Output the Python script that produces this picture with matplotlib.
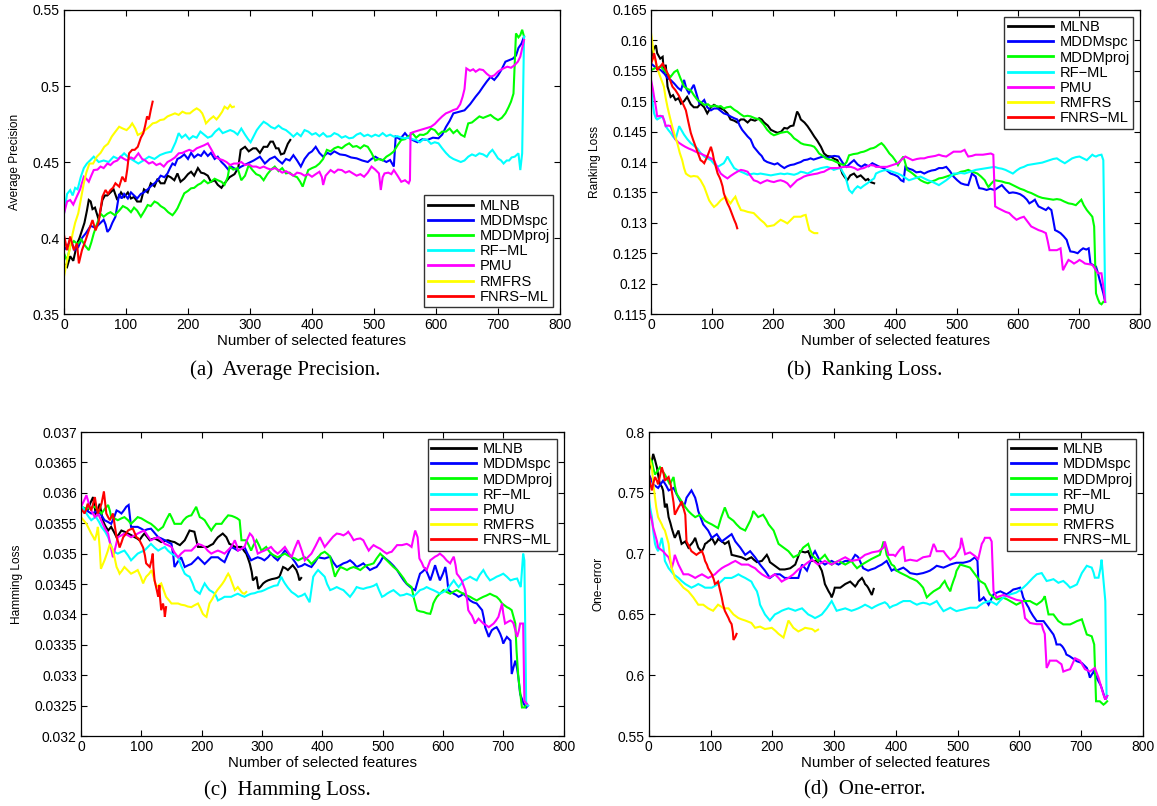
import matplotlib
matplotlib.use("Agg")
import matplotlib.pyplot as plt

methods = ["MLNB", "MDDMspc", "MDDMproj", "RF\u2212ML", "PMU", "RMFRS", "FNRS\u2212ML"]
colors = ["#000000", "#0000ff", "#00ff00", "#00ffff", "#ff00ff", "#ffff00", "#ff0000"]

# ---------------- (a) Average Precision: (features, value) ----------------
ap_mlnb = [(0,.383),(5,.381),(10,.388),(15,.385),(21,.396),(25,.40),(29,.405),(33,.41),(37,.418),(40,.425),(43,.424),(46,.419),(50,.42),(56,.412),(62,.425),(66,.428),(70,.428),(75,.43),(80,.432),(86,.425),(92,.43),(97,.427),(103,.43),(108,.426),(113,.427),(118,.424),(124,.424),(129,.432),(135,.43),(140,.436),(146,.434),(151,.439),(156,.436),(162,.436),(167,.441),(172,.44),(178,.438),(183,.4425),(188,.437),(194,.439),(200,.442),(205,.4436),(210,.441),(216,.446),(221,.443),(226,.4425),(232,.441),(237,.437),(243,.438),(248,.435),(254,.433),(259,.436),(267,.44),(275,.442),(281,.446),(285,.458),(292,.46),(298,.457),(305,.459),(310,.459),(316,.456),(322,.46),(328,.46),(333,.4634),(337,.4634),(342,.459),(346,.459),(350,.455),(355,.4557),(361,.462),(365,.4645)]
ap_spc = [(0,.392),(6,.395),(11,.3987),(17,.392),(23,.394),(29,.40),(35,.403),(43,.408),(49,.407),(54,.408),(59,.41),(64,.412),(67,.409),(70,.404),(74,.406),(78,.41),(83,.414),(89,.429),(93,.426),(97,.429),(103,.426),(108,.43),(113,.428),(118,.426),(124,.429),(129,.43),(135,.432),(140,.434),(146,.436),(151,.438),(156,.441),(162,.44),(167,.4425),(171,.446),(175,.449),(179,.448),(183,.452),(188,.453),(194,.455),(200,.452),(205,.456),(210,.453),(216,.455),(221,.454),(226,.457),(232,.454),(237,.456),(243,.452),(248,.4535),(254,.45),(259,.448),(265,.445),(270,.447),(278,.445),(286,.447),(296,.449),(306,.451),(316,.4535),(324,.449),(332,.452),(340,.4535),(346,.451),(352,.449),(358,.452),(364,.451),(370,.4545),(376,.451),(382,.447),(388,.452),(395,.4557),(400,.457),(406,.46),(412,.456),(418,.4535),(425,.456),(430,.455),(436,.457),(445,.455),(454,.4545),(463,.453),(472,.4524),(481,.451),(490,.45),(496,.452),(502,.4535),(508,.452),(514,.4513),(520,.45),(526,.4513),(532,.447),(535,.4667),(542,.465),(550,.469),(556,.466),(562,.4645),(570,.463),(578,.465),(586,.4645),(595,.466),(604,.4656),(610,.468),(616,.473),(622,.477),(628,.482),(637,.483),(646,.484),(655,.488),(664,.493),(670,.496),(676,.4996),(682,.503),(688,.506),(694,.504),(700,.507),(706,.511),(712,.516),(718,.517),(724,.518),(729,.52),(733,.525),(738,.528),(742,.5325)]
ap_proj = [(0,.39),(5,.385),(10,.395),(16,.398),(22,.396),(28,.399),(34,.395),(40,.392),(44,.397),(48,.403),(53,.409),(59,.416),(64,.414),(70,.416),(75,.417),(82,.415),(89,.418),(95,.421),(102,.4195),(108,.417),(113,.42),(118,.418),(124,.414),(130,.418),(135,.4217),(140,.421),(146,.424),(151,.423),(156,.421),(162,.4195),(168,.417),(175,.415),(179,.417),(183,.4195),(188,.424),(194,.4294),(200,.431),(205,.4327),(210,.433),(216,.435),(221,.436),(226,.438),(232,.436),(237,.437),(243,.439),(248,.438),(254,.437),(259,.435),(264,.44),(267,.447),(273,.445),(280,.446),(286,.438),(292,.441),(298,.448),(304,.4447),(310,.442),(316,.441),(322,.438),(328,.442),(334,.445),(340,.447),(346,.444),(352,.446),(358,.4425),(364,.443),(370,.441),(376,.44),(381,.437),(385,.4338),(390,.44),(394,.4447),(400,.446),(406,.447),(412,.449),(418,.452),(424,.458),(430,.457),(436,.459),(442,.46),(448,.459),(454,.461),(460,.4623),(466,.46),(472,.4605),(478,.459),(484,.461),(490,.46),(496,.456),(502,.451),(508,.452),(514,.451),(520,.4535),(526,.455),(532,.457),(538,.461),(544,.4645),(550,.465),(556,.467),(562,.469),(568,.466),(574,.468),(580,.4678),(586,.469),(592,.472),(598,.471),(604,.468),(610,.47),(616,.47),(622,.472),(628,.469),(634,.471),(640,.468),(646,.4667),(652,.4754),(658,.476),(664,.478),(670,.48),(676,.479),(682,.48),(688,.481),(694,.479),(700,.4776),(706,.479),(712,.482),(717,.486),(721,.4897),(725,.495),(729,.5346),(733,.532),(736,.5335),(739,.537),(742,.5325)]
ap_rf = [(0,.416),(5,.429),(10,.4315),(14,.428),(18,.433),(22,.432),(27,.44),(32,.446),(37,.449),(42,.451),(48,.4535),(56,.45),(64,.451),(72,.45),(80,.4535),(88,.452),(97,.4557),(104,.453),(112,.451),(120,.449),(128,.451),(137,.4535),(146,.452),(155,.4546),(164,.456),(173,.4568),(180,.463),(185,.469),(190,.466),(196,.468),(202,.465),(208,.467),(214,.466),(220,.47),(226,.468),(232,.466),(238,.467),(244,.47),(250,.472),(256,.469),(262,.47),(268,.471),(274,.47),(280,.468),(286,.472),(292,.468),(297,.465),(301,.463),(306,.467),(311,.471),(316,.4737),(322,.4765),(328,.475),(334,.473),(340,.472),(346,.474),(352,.472),(358,.471),(364,.469),(370,.4667),(376,.469),(382,.467),(388,.471),(394,.47),(400,.468),(406,.469),(412,.467),(418,.469),(424,.4667),(430,.467),(436,.469),(442,.468),(448,.466),(454,.467),(460,.4656),(466,.466),(472,.468),(478,.469),(484,.467),(490,.468),(496,.4667),(502,.468),(508,.467),(514,.469),(520,.467),(526,.468),(532,.4667),(538,.467),(544,.466),(550,.4656),(556,.466),(562,.465),(568,.4645),(574,.463),(580,.465),(586,.4645),(592,.462),(598,.463),(604,.4623),(610,.459),(616,.456),(622,.4535),(628,.452),(634,.451),(640,.45),(646,.451),(652,.4535),(658,.455),(664,.454),(670,.4557),(676,.455),(682,.4535),(686,.456),(691,.458),(696,.455),(700,.4524),(705,.451),(709,.449),(714,.451),(718,.451),(722,.453),(727,.4535),(733,.4557),(736,.4447),(739,.4557),(742,.5325)]
ap_pmu = [(0,.416),(5,.424),(10,.425),(15,.422),(21,.4276),(26,.432),(32,.4403),(36,.439),(40,.437),(44,.441),(48,.4447),(54,.445),(59,.447),(64,.446),(70,.449),(75,.448),(80,.45),(86,.451),(91,.4535),(97,.452),(102,.451),(108,.453),(113,.452),(120,.4557),(126,.452),(131,.451),(137,.449),(143,.45),(149,.448),(155,.449),(161,.447),(167,.45),(173,.4513),(179,.453),(185,.4557),(191,.456),(196,.457),(202,.458),(208,.457),(214,.459),(220,.46),(226,.461),(232,.4623),(238,.458),(244,.4535),(250,.452),(256,.4513),(262,.45),(268,.448),(274,.449),(280,.449),(286,.45),(292,.448),(298,.4485),(304,.447),(310,.447),(316,.446),(322,.447),(328,.4458),(334,.445),(340,.446),(346,.4447),(352,.443),(358,.444),(364,.4425),(370,.441),(376,.443),(382,.4425),(388,.441),(394,.442),(400,.4403),(406,.442),(412,.4436),(416,.44),(418,.4349),(422,.441),(430,.4447),(436,.443),(442,.445),(448,.4447),(454,.443),(460,.444),(466,.4425),(472,.441),(478,.442),(484,.4403),(490,.443),(496,.447),(502,.445),(508,.4425),(511,.4316),(514,.44),(517,.4425),(523,.443),(528,.442),(532,.4447),(538,.441),(544,.437),(550,.438),(556,.436),(558,.438),(559,.469),(566,.47),(574,.471),(582,.472),(592,.4732),(598,.475),(604,.4776),(610,.48),(616,.482),(622,.483),(628,.4842),(634,.485),(639,.488),(643,.493),(646,.498),(649,.5116),(655,.51),(660,.511),(664,.5094),(670,.511),(676,.5105),(682,.508),(688,.5061),(694,.507),(700,.5094),(706,.511),(711,.512),(715,.5127),(721,.512),(727,.5138),(732,.516),(736,.5193),(742,.5303)]
ap_rmfrs = [(0,.3746),(5,.3855),(9,.392),(14,.403),(18,.41),(23,.4162),(27,.425),(32,.436),(36,.443),(41,.449),(47,.449),(53,.4535),(59,.456),(65,.46),(71,.462),(77,.4667),(83,.47),(89,.4732),(95,.472),(101,.471),(106,.473),(110,.4754),(115,.472),(119,.4678),(125,.469),(131,.471),(137,.473),(143,.4754),(149,.476),(155,.4776),(161,.478),(167,.48),(173,.481),(179,.482),(185,.481),(191,.4831),(197,.482),(203,.482),(209,.484),(214,.4853),(219,.484),(223,.482),(226,.479),(229,.4754),(235,.478),(241,.48),(246,.478),(250,.48),(255,.483),(259,.4864),(264,.485),(268,.4875),(271,.486),(274,.4864)]
ap_fnrs = [(0,.402),(5,.392),(10,.401),(16,.392),(21,.3965),(24,.3833),(29,.392),(35,.3987),(40,.405),(46,.4118),(51,.405),(56,.4107),(62,.4272),(67,.4316),(71,.429),(75,.4316),(79,.433),(83,.436),(89,.4338),(94,.4403),(99,.437),(102,.445),(105,.4557),(110,.458),(114,.458),(119,.46),(124,.466),(128,.469),(131,.474),(134,.48),(137,.478),(140,.4842),(143,.4897)]

# ---------------- (b) Ranking Loss ----------------
rl_mlnb = [(0,.157),(4,.1585),(8,.1592),(10,.1579),(15,.157),(19,.1573),(21,.1546),(24,.156),(27,.1524),(32,.1507),(36,.151),(40,.1502),(45,.1505),(49,.1496),(54,.150),(59,.1507),(65,.1495),(70,.149),(76,.149),(81,.1496),(87,.149),(92,.148),(98,.149),(103,.1494),(110,.149),(119,.1486),(125,.148),(130,.147),(136,.1468),(141,.1465),(147,.147),(152,.147),(158,.1465),(163,.147),(170,.1468),(177,.1472),(181,.147),(185,.1465),(191,.146),(196,.1453),(202,.145),(207,.1448),(213,.145),(218,.1456),(223,.1455),(228,.1459),(233,.146),(239,.1483),(242,.1478),(245,.147),(251,.1465),(256,.1459),(262,.145),(267,.1442),(272,.1435),(278,.1425),(283,.1414),(288,.141),(294,.1409),(300,.1405),(305,.1403),(310,.139),(313,.1381),(317,.1375),(321,.137),(326,.1378),(332,.1381),(337,.1375),(343,.1378),(347,.1374),(351,.137),(355,.1372),(359,.1367),(365,.1365)]
rl_spc = [(0,.1562),(8,.1555),(16,.1551),(22,.1545),(27,.1538),(32,.1535),(38,.1529),(44,.1522),(49,.1518),(54,.1535),(58,.152),(62,.1513),(66,.152),(70,.1527),(75,.151),(79,.1496),(83,.1498),(87,.1502),(92,.149),(98,.1485),(103,.1488),(109,.1488),(114,.1484),(119,.148),(125,.1478),(130,.1475),(136,.1472),(141,.147),(145,.146),(149,.1453),(154,.1447),(158,.1442),(163,.1437),(168,.1425),(172,.142),(177,.1414),(181,.141),(185,.1403),(190,.14),(196,.1398),(202,.1396),(207,.1398),(212,.1394),(218,.139),(223,.1393),(228,.1395),(234,.1396),(239,.1398),(245,.14),(250,.1403),(256,.1404),(261,.1406),(266,.1404),(272,.1406),(278,.1408),(283,.1409),(289,.1406),(294,.1409),(300,.141),(307,.1409),(314,.1398),(320,.1392),(326,.1398),(332,.1403),(338,.1396),(344,.1392),(350,.1396),(356,.1393),(362,.1398),(368,.1395),(374,.1392),(380,.139),(386,.1386),(392,.1381),(398,.1379),(404,.1376),(409,.137),(413,.1368),(416,.1392),(422,.1389),(428,.1387),(434,.1383),(441,.1384),(447,.1381),(453,.1384),(459,.1386),(465,.1387),(471,.139),(477,.139),(483,.1392),(489,.1385),(495,.1376),(501,.137),(507,.1365),(513,.1363),(519,.1362),(525,.1381),(531,.1376),(534,.1365),(537,.1357),(543,.1356),(549,.1354),(555,.1356),(562,.1354),(568,.1358),(574,.1362),(580,.1355),(586,.1349),(592,.135),(598,.1349),(604,.1347),(610,.1343),(615,.1338),(619,.1332),(624,.1335),(628,.1338),(631,.1332),(634,.1327),(640,.1324),(646,.1321),(650,.1325),(655,.1321),(658,.1305),(661,.1288),(665,.1286),(670,.1283),(675,.1278),(680,.1272),(683,.1262),(686,.1253),(692,.1252),(698,.125),(703,.1255),(707,.1258),(712,.1256),(716,.1258),(719,.1233),(724,.123),(728,.1228),(731,.1218),(734,.1206),(737,.1195),(740,.1184),(743,.117)]
rl_proj = [(0,.1551),(8,.1555),(16,.1557),(24,.1548),(32,.154),(38,.1548),(43,.1551),(48,.1538),(54,.1524),(60,.152),(65,.1518),(70,.151),(76,.1502),(82,.1498),(87,.1494),(93,.1495),(98,.1491),(104,.1493),(109,.1491),(114,.1492),(119,.1488),(124,.149),(130,.1491),(136,.1486),(141,.1483),(146,.1479),(152,.1475),(158,.1476),(163,.1475),(170,.1472),(177,.147),(184,.1462),(190,.1453),(196,.1447),(201,.1444),(207,.1446),(212,.1448),(218,.1449),(223,.145),(229,.1445),(234,.1439),(240,.1435),(245,.1431),(250,.1429),(256,.1428),(262,.1427),(267,.1425),(271,.142),(275,.1414),(281,.141),(286,.1406),(292,.1404),(297,.1403),(303,.14),(308,.1398),(312,.1396),(316,.1395),(320,.14),(324,.1411),(331,.1413),(338,.1414),(343,.1416),(348,.1417),(353,.1419),(359,.1422),(364,.1423),(368,.1425),(372,.1428),(377,.1431),(381,.1427),(386,.142),(390,.1414),(395,.1409),(400,.1402),(404,.1395),(408,.1402),(413,.1409),(416,.1398),(419,.1387),(424,.1384),(428,.1381),(434,.1376),(441,.137),(447,.1367),(453,.1365),(459,.1368),(465,.137),(471,.1373),(477,.1374),(483,.1376),(489,.1378),(495,.1379),(501,.1381),(507,.1384),(513,.1385),(519,.1387),(526,.1384),(534,.1381),(540,.1376),(546,.137),(549,.1364),(552,.1359),(557,.1365),(562,.137),(568,.1369),(574,.1368),(580,.1366),(586,.1365),(592,.1362),(598,.1359),(604,.1356),(610,.1354),(616,.1351),(622,.1349),(628,.1346),(634,.1343),(640,.1341),(646,.134),(652,.1339),(658,.1338),(664,.1339),(670,.1338),(676,.1335),(683,.1332),(689,.1331),(695,.1329),(700,.1334),(704,.1338),(708,.1329),(713,.1321),(718,.1315),(722,.131),(725,.1294),(728,.1184),(731,.1175),(734,.1168),(737,.1166),(740,.117)]
rl_rf = [(0,.1529),(3,.1495),(5,.148),(8,.1472),(10,.147),(15,.1473),(19,.1475),(22,.1465),(24,.1459),(28,.1453),(32,.1448),(36,.1442),(40,.1437),(43,.1448),(46,.1459),(50,.1452),(54,.1445),(59,.1438),(65,.1431),(70,.1427),(76,.1422),(81,.1415),(87,.1409),(92,.1406),(98,.1403),(103,.1397),(109,.1392),(114,.1395),(119,.1398),(122,.1403),(125,.1409),(130,.14),(136,.139),(141,.1387),(147,.1384),(152,.1382),(158,.1379),(163,.138),(168,.1381),(174,.138),(179,.1381),(185,.138),(190,.1379),(196,.1378),(201,.1379),(207,.138),(212,.1381),(218,.138),(223,.1381),(229,.138),(234,.1379),(240,.1381),(245,.1384),(250,.1383),(256,.1381),(262,.1384),(267,.1387),(272,.1388),(278,.139),(283,.1391),(288,.1392),(294,.139),(299,.1387),(305,.1389),(310,.139),(314,.1383),(318,.1376),(321,.1365),(324,.1354),(329,.1349),(333,.1355),(338,.136),(343,.1357),(348,.1361),(354,.1365),(359,.1369),(365,.1373),(368,.1381),(374,.1384),(380,.1386),(386,.1387),(392,.1385),(398,.1383),(404,.1381),(410,.1378),(416,.1374),(422,.137),(428,.1372),(434,.1374),(441,.1376),(447,.1373),(453,.137),(459,.1368),(465,.1365),(471,.1362),(477,.1366),(483,.137),(489,.1375),(495,.1381),(501,.1381),(507,.1382),(513,.1381),(519,.1383),(525,.1385),(531,.1387),(537,.1388),(543,.1389),(549,.139),(556,.1391),(562,.1392),(568,.139),(574,.1389),(580,.1387),(586,.1384),(592,.1381),(598,.1386),(604,.139),(610,.1392),(616,.1395),(622,.1396),(628,.1397),(634,.1398),(640,.1399),(646,.1401),(652,.1403),(658,.1405),(664,.1406),(670,.1402),(677,.1398),(683,.1402),(689,.1406),(695,.1408),(701,.1409),(707,.1406),(713,.1403),(718,.1408),(722,.1412),(725,.141),(728,.1409),(732,.1411),(737,.1412),(740,.1403),(743,.1173)]
rl_pmu = [(0,.1535),(3,.152),(5,.1507),(8,.149),(10,.1475),(15,.1476),(19,.1475),(22,.1467),(24,.1459),(28,.146),(32,.1459),(36,.1448),(40,.1437),(45,.1432),(51,.1428),(56,.1425),(62,.1422),(67,.142),(73,.1417),(77,.1415),(81,.1414),(87,.1411),(92,.1409),(98,.1406),(103,.1403),(108,.1392),(114,.1381),(119,.1377),(125,.1373),(130,.1377),(136,.1381),(141,.1384),(147,.1387),(152,.1386),(158,.1384),(163,.1377),(168,.137),(174,.1368),(179,.1365),(185,.1368),(190,.137),(196,.1368),(201,.1367),(207,.1369),(212,.137),(218,.1368),(223,.1365),(228,.1359),(234,.1365),(239,.137),(245,.1373),(250,.1376),(256,.1378),(261,.1379),(266,.138),(272,.1381),(278,.1383),(283,.1384),(288,.1387),(294,.139),(300,.139),(305,.139),(310,.1391),(316,.1392),(322,.1392),(327,.1392),(333,.139),(338,.1387),(343,.1389),(348,.139),(354,.1393),(359,.1395),(365,.1394),(368,.1392),(377,.1392),(386,.1392),(395,.1395),(404,.1398),(410,.1404),(416,.1409),(422,.1406),(428,.1403),(435,.1405),(441,.1406),(447,.1406),(453,.1408),(459,.1409),(465,.141),(471,.1412),(477,.141),(483,.1409),(489,.1413),(495,.1417),(501,.1417),(507,.1417),(513,.142),(516,.1414),(519,.1409),(525,.141),(531,.1412),(537,.1412),(543,.1412),(549,.1413),(556,.1414),(560,.1412),(563,.1327),(568,.1324),(574,.1321),(580,.1318),(586,.1316),(592,.131),(598,.1305),(604,.1308),(610,.131),(616,.1302),(622,.1294),(628,.1291),(634,.1288),(640,.1286),(646,.1283),(649,.127),(652,.1255),(658,.1255),(664,.1255),(670,.1258),(674,.1222),(678,.123),(683,.1239),(688,.1236),(692,.1233),(697,.1236),(701,.1239),(706,.1236),(710,.1233),(716,.1232),(722,.1231),(726,.1225),(731,.1217),(734,.1217),(737,.1217),(740,.1195),(743,.117)]
rl_rmfrs = [(0,.1612),(3,.159),(5,.1573),(9,.156),(13,.1546),(17,.1535),(21,.1524),(24,.1505),(27,.149),(31,.1473),(35,.1457),(39,.1443),(43,.1431),(47,.1415),(51,.1403),(54,.139),(57,.1381),(61,.1378),(65,.1376),(70,.1377),(76,.1376),(81,.137),(87,.1359),(91,.1348),(95,.1337),(99,.1331),(103,.1326),(108,.133),(114,.1337),(118,.134),(122,.1343),(126,.1337),(130,.1332),(134,.1338),(138,.1343),(142,.1332),(147,.1321),(152,.132),(158,.1318),(163,.1317),(168,.1316),(174,.131),(179,.1305),(185,.13),(190,.1294),(196,.1295),(201,.1296),(207,.1301),(212,.1305),(218,.1302),(223,.1299),(229,.1305),(234,.131),(240,.131),(245,.131),(249,.1312),(253,.1313),(256,.13),(259,.1288),(263,.1285),(267,.1283),(272,.1283)]
rl_fnrs = [(0,.1562),(3,.157),(5,.1579),(8,.1565),(10,.1551),(15,.1557),(19,.1562),(23,.1554),(27,.1546),(31,.1535),(35,.1524),(40,.1518),(45,.151),(49,.1502),(53,.1494),(57,.1485),(61,.1466),(65,.1448),(69,.1436),(73,.1425),(77,.1414),(81,.1403),(84,.1401),(87,.1398),(92,.1409),(95,.1417),(98,.1425),(101,.1414),(103,.1403),(106,.1392),(109,.1381),(112,.1375),(114,.137),(117,.136),(119,.1349),(122,.134),(125,.1332),(128,.1326),(130,.1321),(133,.1313),(136,.1305),(139,.1298),(141,.1291)]

# ---------------- (c) Hamming Loss ----------------
hl_mlnb = [(0,.03577),(6,.03574),(11,.03571),(15,.03582),(20,.03593),(23,.03575),(25,.0356),(28,.03572),(31,.03582),(34,.03566),(36,.03555),(40,.03546),(45,.03538),(50,.03544),(55,.03535),(59,.03527),(63,.03532),(67,.03538),(72,.03536),(78,.03533),(84,.0353),(89,.03527),(93,.03525),(97,.03522),(101,.03528),(105,.03533),(110,.03527),(114,.03522),(118,.03524),(122,.03525),(128,.03522),(133,.03519),(139,.03521),(144,.03522),(150,.0352),(155,.03519),(160,.03516),(164,.03514),(168,.03518),(172,.03522),(176,.0353),(180,.03538),(184,.03537),(188,.03536),(191,.03523),(194,.03511),(200,.03511),(205,.03511),(210,.03511),(215,.03514),(219,.03516),(223,.03522),(227,.03527),(231,.0353),(235,.03533),(238,.0353),(241,.03527),(246,.03516),(251,.03514),(255,.03511),(261,.03511),(266,.03511),(270,.03505),(274,.035),(277,.03492),(280,.03483),(283,.0347),(285,.03456),(288,.03459),(291,.03462),(294,.03442),(298,.03446),(302,.03451),(306,.03454),(310,.03456),(316,.03458),(321,.03459),(325,.0346),(329,.03462),(332,.0347),(335,.03478),(339,.03476),(343,.03473),(347,.03477),(351,.03481),(354,.03477),(357,.03473),(360,.03465),(362,.03456),(365,.0346)]
hl_spc = [(0,.03577),(9,.03571),(17,.03566),(23,.03568),(28,.03571),(34,.03563),(39,.03555),(45,.03552),(50,.03549),(55,.0356),(59,.03571),(63,.03569),(67,.03566),(71,.03571),(75,.03577),(79,.0358),(83,.03544),(89,.03544),(94,.03544),(100,.03541),(105,.03538),(110,.0354),(116,.03541),(122,.03534),(128,.03527),(133,.03525),(139,.03522),(144,.03519),(150,.03516),(153,.03497),(155,.03478),(160,.03486),(166,.03494),(169,.03486),(172,.03478),(178,.03481),(183,.03483),(188,.03488),(194,.03494),(200,.03488),(205,.03483),(210,.03488),(216,.03494),(221,.03494),(227,.03494),(232,.0349),(238,.03486),(244,.035),(249,.03511),(255,.03508),(260,.03505),(266,.03508),(271,.03511),(276,.035),(282,.03489),(288,.03492),(293,.03494),(299,.03492),(304,.03489),(310,.03494),(315,.035),(320,.03494),(326,.03489),(332,.03497),(338,.03505),(344,.035),(349,.03494),(355,.03486),(360,.03478),(366,.0348),(371,.03483),(377,.0348),(382,.03478),(388,.03486),(393,.03494),(398,.03493),(404,.03492),(413,.03495),(418,.03486),(424,.03478),(430,.03481),(435,.03484),(441,.03486),(446,.03489),(452,.03484),(457,.03478),(463,.03481),(468,.03484),(474,.03478),(479,.03473),(485,.03476),(490,.03478),(496,.03486),(501,.03495),(507,.0349),(512,.03486),(518,.0348),(524,.03473),(529,.03465),(535,.03456),(540,.0345),(546,.03445),(550,.03442),(554,.0344),(558,.03454),(562,.03467),(567,.03471),(571,.03475),(575,.03466),(579,.03456),(583,.03468),(587,.03481),(591,.03468),(595,.03456),(600,.03467),(604,.03478),(607,.03459),(609,.0344),(613,.03437),(618,.03434),(622,.03432),(626,.03429),(630,.03431),(634,.03434),(640,.03428),(645,.03423),(650,.0342),(656,.03418),(660,.03413),(665,.03407),(668,.03393),(670,.03379),(673,.03371),(676,.03363),(678,.03368),(681,.03374),(685,.03377),(689,.03379),(692,.03374),(695,.03368),(698,.0336),(700,.03352),(703,.03358),(706,.03363),(709,.0336),(712,.03357),(714,.03302),(717,.03313),(720,.03324),(723,.03311),(725,.03297),(728,.03269),(731,.03261),(734,.03253),(738,.03247),(741,.0325)]
hl_proj = [(0,.03577),(6,.03575),(11,.03574),(17,.03576),(23,.03577),(28,.03572),(34,.03566),(39,.03573),(45,.0358),(48,.0357),(50,.0356),(55,.03558),(61,.03555),(67,.03558),(72,.0356),(78,.03555),(83,.03549),(89,.03555),(94,.0356),(100,.03558),(105,.03555),(110,.03552),(116,.03549),(122,.03544),(128,.03538),(132,.03541),(136,.03544),(141,.03555),(147,.03566),(151,.03558),(155,.03549),(160,.03549),(166,.03549),(170,.03555),(175,.0356),(179,.03562),(183,.03563),(187,.0357),(191,.03577),(194,.03568),(197,.0356),(201,.03558),(205,.03555),(210,.03547),(216,.03538),(220,.03544),(224,.03549),(228,.03549),(233,.03549),(238,.03556),(244,.03563),(250,.03562),(255,.0356),(259,.03558),(263,.03555),(266,.03522),(270,.03522),(274,.03522),(278,.03514),(282,.03505),(286,.03514),(291,.03522),(295,.03514),(299,.03505),(303,.03508),(307,.03511),(311,.03505),(315,.035),(320,.03497),(326,.03494),(332,.03497),(338,.035),(343,.03497),(349,.03494),(355,.03492),(360,.03489),(366,.03492),(371,.03494),(377,.03489),(382,.03483),(388,.03489),(393,.03494),(398,.035),(404,.03503),(409,.03499),(413,.03495),(417,.03478),(421,.03462),(425,.0347),(430,.03478),(435,.03476),(441,.03473),(446,.03476),(452,.03478),(457,.03476),(463,.03473),(468,.03477),(474,.03481),(479,.03482),(485,.03484),(490,.03492),(496,.035),(501,.03495),(507,.03489),(512,.03484),(518,.03478),(524,.03473),(529,.03467),(535,.03459),(540,.03451),(544,.03448),(548,.03445),(552,.03426),(557,.03407),(562,.03405),(568,.03404),(573,.03402),(579,.03401),(582,.0341),(584,.03418),(587,.03424),(590,.03429),(595,.03434),(601,.0344),(606,.03437),(612,.03434),(617,.03437),(623,.0344),(628,.03437),(634,.03434),(640,.03431),(645,.03429),(650,.03426),(656,.03423),(661,.03426),(667,.03429),(672,.03431),(678,.03434),(684,.03431),(689,.03429),(694,.03424),(698,.03418),(702,.03415),(706,.03412),(710,.0341),(714,.03407),(717,.03396),(720,.03385),(722,.03341),(725,.03297),(728,.03272),(731,.03247),(734,.03247),(736,.03247),(739,.03253)]
hl_rf = [(0,.0358),(5,.03573),(9,.03566),(13,.0356),(17,.03555),(21,.03558),(25,.0356),(30,.03552),(34,.03544),(40,.03536),(45,.03527),(49,.03516),(53,.03505),(57,.03502),(61,.035),(67,.03503),(72,.03505),(78,.03497),(83,.03489),(89,.03495),(94,.035),(100,.03503),(105,.03505),(110,.0351),(116,.03516),(122,.0351),(128,.03505),(133,.03508),(139,.03511),(144,.03505),(150,.035),(155,.03497),(161,.03494),(166,.0348),(172,.03467),(176,.03464),(180,.03462),(185,.03451),(189,.0344),(193,.03437),(197,.03434),(201,.03443),(205,.03451),(209,.03445),(213,.0344),(218,.03437),(222,.03434),(225,.03428),(227,.03423),(233,.03426),(238,.03429),(244,.03429),(249,.03429),(255,.03432),(260,.03434),(266,.03431),(271,.03429),(277,.03432),(282,.03434),(288,.03435),(293,.03437),(299,.03438),(304,.0344),(310,.03443),(315,.03445),(320,.03447),(326,.03448),(329,.03455),(332,.03462),(335,.03456),(338,.03451),(343,.03444),(349,.03437),(355,.03433),(360,.03429),(366,.03431),(371,.03434),(375,.03427),(379,.0342),(382,.03441),(385,.03462),(389,.03468),(393,.03473),(398,.03468),(404,.03462),(408,.0345),(413,.0344),(418,.03442),(424,.03445),(430,.03442),(435,.0344),(441,.03434),(446,.03429),(452,.03437),(457,.03445),(463,.03443),(468,.03442),(474,.03444),(479,.03445),(485,.03447),(490,.0345),(494,.0344),(499,.03429),(503,.03431),(507,.03434),(512,.03437),(518,.0344),(524,.03435),(529,.03431),(535,.03432),(540,.03434),(546,.03432),(551,.03429),(557,.03435),(562,.0344),(568,.03442),(573,.03445),(579,.03442),(584,.0344),(590,.03437),(595,.03434),(601,.03437),(606,.0344),(612,.03448),(618,.03456),(622,.0345),(626,.03445),(630,.0345),(634,.03456),(640,.03459),(645,.03462),(650,.03459),(656,.03456),(661,.03465),(667,.03473),(672,.03464),(678,.03456),(684,.03459),(689,.03462),(694,.03464),(700,.03467),(706,.03462),(712,.03456),(718,.03458),(723,.03459),(726,.03452),(729,.03445),(733,.035),(735,.03489),(738,.03253),(741,.0325)]
hl_pmu = [(0,.03577),(5,.03587),(9,.03596),(12,.03586),(14,.03577),(18,.03569),(23,.0356),(28,.03566),(32,.03558),(36,.03549),(40,.03541),(45,.03533),(49,.03513),(53,.03494),(57,.0351),(61,.03527),(67,.0353),(72,.03533),(78,.0353),(83,.03527),(89,.0353),(94,.03533),(100,.03536),(105,.03538),(110,.0353),(116,.03522),(122,.03525),(128,.03527),(133,.03522),(139,.03516),(144,.03514),(150,.03511),(155,.03502),(161,.03494),(166,.035),(172,.03505),(177,.03505),(183,.03505),(188,.0351),(194,.03516),(200,.03514),(205,.03511),(210,.03505),(216,.035),(222,.03503),(227,.03505),(232,.03503),(238,.035),(244,.03506),(249,.03511),(252,.03516),(255,.03522),(258,.03514),(260,.03505),(266,.03508),(271,.03511),(275,.03522),(280,.03533),(283,.0353),(285,.03527),(289,.03514),(293,.035),(299,.03503),(304,.03505),(310,.03508),(315,.03511),(320,.03505),(326,.035),(332,.03505),(338,.03511),(343,.03503),(349,.03494),(354,.03508),(360,.03522),(366,.03505),(371,.03489),(377,.03495),(382,.035),(389,.03513),(396,.03527),(400,.03519),(404,.03511),(408,.03516),(413,.03522),(418,.03528),(424,.03533),(430,.03532),(435,.0353),(440,.03533),(443,.03536),(448,.03529),(452,.03522),(457,.03524),(463,.03525),(468,.03522),(472,.03514),(477,.03505),(481,.0351),(485,.03514),(490,.03511),(496,.03508),(501,.03504),(507,.035),(511,.03502),(515,.03503),(520,.03509),(524,.03514),(528,.03514),(532,.03514),(536,.03515),(540,.03516),(544,.03514),(548,.03511),(551,.03525),(554,.03538),(558,.03527),(561,.03492),(565,.03485),(568,.03478),(573,.03473),(576,.03481),(579,.03489),(583,.03492),(587,.03495),(591,.03497),(595,.035),(601,.03495),(606,.03489),(612,.03484),(615,.0349),(618,.03495),(621,.03481),(623,.03467),(627,.03462),(631,.03456),(634,.03448),(637,.0344),(640,.03424),(642,.03407),(645,.03402),(648,.03398),(651,.03391),(653,.03385),(656,.03389),(659,.03393),(663,.03389),(667,.03385),(672,.03382),(676,.03379),(680,.03382),(684,.03385),(688,.0339),(692,.03396),(695,.03407),(698,.03418),(700,.03402),(703,.03385),(708,.03388),(712,.0339),(715,.03388),(717,.03385),(720,.03374),(723,.03363),(726,.03374),(728,.03385),(731,.03385),(733,.03385),(735,.03258),(739,.03253)]
hl_rmfrs = [(0,.0356),(5,.03554),(9,.03549),(13,.03541),(17,.03533),(20,.03528),(23,.03522),(26,.03533),(28,.03544),(31,.0351),(33,.03475),(36,.03482),(39,.03489),(44,.03503),(48,.03516),(51,.0351),(53,.03505),(56,.03492),(59,.03478),(62,.03472),(64,.03467),(68,.03472),(72,.03478),(77,.03473),(83,.03467),(89,.0347),(94,.03473),(99,.03462),(103,.03451),(105,.03456),(108,.03462),(113,.03467),(117,.03473),(121,.03459),(125,.03445),(129,.03448),(133,.03451),(137,.0344),(141,.03429),(146,.03423),(150,.03418),(155,.03418),(161,.03418),(166,.03416),(172,.03415),(177,.03413),(183,.03412),(188,.03415),(194,.03418),(198,.0341),(202,.03401),(205,.03398),(208,.03396),(213,.03418),(218,.03426),(222,.03434),(226,.0344),(230,.03445),(234,.0345),(238,.03456),(241,.03462),(244,.03467),(247,.03462),(249,.03456),(252,.03448),(255,.0344),(258,.03443),(260,.03445),(263,.03441),(266,.03437),(268,.03435),(271,.03434),(274,.03437)]
hl_fnrs = [(0,.03574),(3,.0357),(6,.03566),(9,.03574),(11,.03582),(14,.03577),(17,.03571),(20,.03582),(23,.03593),(25,.0358),(28,.03566),(31,.03574),(34,.03582),(36,.03592),(38,.03602),(40,.03584),(42,.03566),(45,.0356),(48,.03555),(50,.0356),(53,.03566),(56,.03546),(59,.03527),(62,.03518),(64,.0351),(67,.03518),(70,.03527),(74,.03532),(78,.03538),(82,.0354),(86,.03541),(89,.03534),(92,.03527),(95,.03525),(97,.03522),(100,.03516),(103,.0351),(106,.03497),(108,.03484),(111,.03481),(114,.03478),(117,.03489),(119,.035),(120,.03478),(122,.03456),(125,.03443),(128,.03429),(130,.03448),(131,.03428),(133,.03407),(136,.03418),(138,.03407),(139,.03396),(141,.03412)]

# ---------------- (d) One-error ----------------
oe_mlnb = [(0,.768),(3,.774),(5,.776),(7,.782),(10,.777),(13,.771),(16,.762),(18,.757),(21,.755),(23,.752),(26,.738),(29,.741),(32,.73),(35,.725),(37,.721),(40,.716),(42,.713),(45,.716),(48,.719),(51,.712),(53,.708),(56,.709),(59,.71),(62,.707),(64,.705),(67,.707),(69,.708),(72,.71),(75,.713),(78,.708),(80,.705),(83,.703),(86,.702),(89,.705),(91,.708),(94,.709),(96,.71),(99,.711),(102,.713),(105,.71),(107,.708),(110,.71),(112,.712),(115,.711),(118,.71),(121,.709),(123,.708),(126,.709),(129,.71),(132,.704),(134,.699),(138,.6985),(142,.698),(146,.6975),(150,.697),(154,.696),(158,.695),(162,.696),(166,.697),(170,.695),(175,.693),(179,.6935),(183,.694),(187,.6965),(191,.699),(194,.696),(196,.693),(200,.6915),(204,.69),(208,.6885),(212,.687),(216,.687),(220,.687),(225,.6875),(229,.688),(233,.6895),(237,.691),(241,.6965),(245,.702),(249,.7015),(253,.701),(256,.7015),(258,.702),(261,.698),(264,.694),(268,.694),(272,.694),(276,.69),(280,.686),(283,.68),(285,.675),(288,.672),(291,.669),(294,.6665),(296,.664),(299,.668),(301,.672),(306,.672),(310,.672),(314,.6735),(318,.675),(322,.676),(326,.677),(330,.675),(334,.673),(337,.675),(339,.677),(342,.6785),(345,.68),(348,.6775),(350,.675),(353,.6735),(355,.672),(358,.669),(361,.666),(364,.671)]
oe_spc = [(0,.765),(4,.761),(7,.757),(11,.7555),(15,.754),(19,.757),(23,.76),(28,.756),(32,.752),(36,.753),(40,.754),(44,.75),(48,.746),(52,.742),(56,.738),(59,.742),(61,.746),(65,.749),(69,.752),(72,.749),(75,.746),(78,.74),(80,.735),(84,.7295),(88,.724),(92,.7215),(96,.719),(99,.716),(102,.713),(106,.7145),(110,.716),(114,.713),(118,.71),(122,.7115),(126,.713),(130,.7145),(134,.716),(137,.713),(140,.71),(144,.7075),(148,.705),(152,.702),(156,.699),(160,.7005),(164,.702),(168,.6995),(172,.697),(176,.694),(180,.691),(184,.6885),(188,.686),(192,.683),(196,.68),(200,.6815),(204,.683),(208,.683),(212,.683),(216,.6815),(220,.68),(226,.68),(231,.68),(236,.68),(242,.68),(245,.6855),(248,.691),(252,.6885),(256,.686),(260,.6915),(264,.697),(266,.6995),(269,.702),(273,.698),(277,.694),(281,.6925),(285,.691),(290,.6925),(296,.694),(301,.6925),(307,.691),(312,.6925),(318,.694),(323,.694),(328,.694),(331,.6965),(334,.699),(337,.698),(339,.697),(343,.6925),(347,.688),(351,.687),(355,.686),(360,.687),(366,.688),(371,.6895),(377,.691),(381,.6925),(385,.694),(389,.69),(393,.686),(397,.6872),(401,.686),(406,.6872),(412,.6885),(418,.6862),(423,.684),(428,.6835),(434,.683),(439,.6835),(444,.684),(450,.685),(455,.686),(461,.688),(466,.69),(472,.6892),(477,.6885),(483,.6898),(488,.691),(493,.6918),(498,.6925),(504,.6925),(509,.6925),(515,.6932),(520,.694),(524,.6955),(528,.697),(532,.694),(535,.661),(539,.6625),(542,.664),(546,.661),(550,.658),(554,.6622),(558,.6665),(563,.6678),(569,.669),(574,.6678),(579,.6665),(585,.6685),(590,.6705),(596,.6712),(601,.672),(604,.668),(606,.664),(609,.661),(612,.658),(615,.6555),(617,.653),(622,.6488),(628,.6445),(634,.6445),(639,.6445),(643,.6418),(647,.639),(651,.6362),(655,.6335),(658,.6294),(660,.6253),(663,.6253),(666,.6253),(669,.6239),(671,.6225),(674,.6198),(676,.617),(681,.6157),(685,.6143),(689,.6129),(693,.6115),(697,.6108),(701,.61),(705,.608),(709,.606),(712,.602),(714,.598),(717,.6005),(720,.603),(724,.599),(728,.595),(731,.5923),(733,.5896),(736,.5848),(739,.58),(742,.583)]
oe_proj = [(0,.779),(2,.7775),(5,.776),(7,.7705),(10,.765),(14,.768),(18,.771),(22,.768),(26,.765),(30,.761),(34,.757),(37,.76),(40,.763),(42,.756),(45,.749),(49,.746),(53,.743),(58,.739),(64,.735),(69,.7325),(75,.73),(79,.731),(83,.732),(87,.7295),(91,.727),(96,.7255),(102,.724),(107,.7225),(112,.721),(117,.7295),(123,.738),(126,.734),(129,.73),(133,.7285),(137,.727),(142,.724),(148,.721),(152,.72),(156,.719),(160,.723),(164,.727),(167,.731),(169,.735),(173,.7325),(177,.73),(181,.731),(185,.732),(190,.728),(194,.724),(198,.7215),(202,.719),(206,.7135),(210,.708),(214,.7065),(218,.705),(222,.7035),(226,.702),(230,.6995),(234,.697),(238,.698),(242,.699),(246,.702),(250,.705),(254,.7065),(258,.708),(261,.7035),(264,.699),(269,.6965),(274,.694),(280,.6965),(285,.699),(290,.695),(296,.691),(301,.6925),(307,.694),(312,.6925),(318,.691),(323,.6925),(328,.694),(332,.691),(337,.688),(341,.6895),(345,.691),(350,.6925),(355,.694),(360,.6955),(366,.697),(370,.698),(374,.699),(377,.7045),(380,.71),(383,.7045),(385,.699),(389,.695),(393,.691),(397,.6898),(401,.686),(406,.6845),(412,.683),(418,.6815),(423,.68),(428,.679),(434,.6775),(439,.675),(444,.672),(447,.668),(450,.664),(455,.6665),(461,.669),(466,.6705),(471,.672),(475,.675),(479,.6775),(483,.673),(488,.669),(490,.673),(493,.6775),(496,.6816),(498,.6857),(501,.6884),(504,.691),(508,.6904),(512,.6898),(516,.6892),(520,.6885),(524,.6858),(528,.683),(532,.6802),(536,.6775),(540,.6762),(544,.675),(548,.6708),(552,.6665),(557,.6645),(563,.6624),(568,.663),(574,.6637),(580,.6624),(585,.661),(590,.6595),(595,.658),(601,.6595),(606,.661),(612,.661),(617,.661),(622,.6595),(628,.658),(632,.6595),(636,.661),(639,.663),(641,.665),(644,.6575),(647,.65),(651,.65),(655,.65),(659,.6472),(663,.6445),(667,.6432),(671,.6418),(677,.6418),(682,.6418),(688,.6432),(693,.6445),(697,.6452),(701,.646),(705,.6398),(709,.6335),(713,.6328),(717,.632),(719,.6286),(721,.6253),(724,.5786),(727,.5786),(730,.5786),(733,.5772),(736,.5758),(739,.577),(742,.5786)]
oe_rf = [(0,.746),(2,.738),(5,.73),(7,.719),(10,.708),(12,.705),(15,.702),(18,.7075),(21,.713),(24,.7035),(26,.694),(29,.691),(32,.688),(36,.6855),(40,.683),(44,.6815),(48,.68),(53,.6775),(59,.675),(64,.6735),(69,.672),(75,.6735),(80,.675),(86,.6735),(91,.672),(96,.672),(102,.672),(107,.6735),(112,.675),(118,.6775),(123,.68),(129,.68),(134,.68),(140,.6815),(145,.683),(150,.6815),(156,.68),(161,.6785),(166,.677),(170,.673),(175,.669),(178,.6635),(180,.658),(184,.654),(188,.65),(192,.6475),(196,.645),(200,.6475),(204,.65),(210,.6515),(215,.653),(220,.654),(226,.655),(232,.654),(237,.653),(242,.654),(248,.655),(253,.6525),(258,.65),(264,.6485),(269,.647),(275,.6485),(280,.65),(284,.6525),(288,.655),(292,.658),(296,.661),(300,.657),(304,.653),(311,.654),(318,.655),(323,.654),(328,.653),(334,.654),(339,.655),(345,.6565),(350,.658),(356,.6565),(361,.655),(366,.6565),(372,.658),(377,.659),(382,.66),(386,.6585),(390,.6555),(395,.657),(401,.658),(406,.6595),(412,.661),(417,.661),(423,.661),(428,.6595),(434,.658),(439,.659),(444,.6596),(450,.659),(455,.658),(461,.6595),(466,.661),(471,.657),(477,.6527),(482,.654),(488,.6555),(493,.654),(498,.6527),(504,.6535),(509,.654),(515,.6548),(520,.6555),(526,.6555),(531,.6555),(536,.6575),(542,.6596),(547,.6603),(552,.661),(558,.6595),(563,.658),(568,.661),(574,.664),(580,.6652),(585,.6665),(590,.6672),(595,.668),(601,.67),(606,.672),(612,.6748),(617,.6775),(622,.6802),(628,.683),(632,.6835),(636,.684),(640,.6808),(644,.6775),(650,.6782),(655,.679),(659,.6775),(663,.676),(667,.6768),(671,.6775),(677,.6748),(682,.672),(688,.6734),(693,.6747),(697,.6794),(701,.684),(705,.687),(709,.69),(713,.6892),(717,.6885),(720,.6844),(722,.6802),(725,.6802),(728,.6802),(731,.6876),(733,.695),(736,.678),(739,.661),(741,.5813)]
oe_pmu = [(0,.738),(2,.7325),(5,.727),(7,.7215),(10,.716),(13,.7105),(15,.705),(19,.7035),(23,.702),(27,.6995),(32,.697),(35,.6925),(37,.688),(40,.6935),(42,.699),(45,.695),(48,.691),(52,.687),(56,.683),(60,.683),(64,.683),(70,.6815),(75,.68),(80,.6815),(86,.683),(91,.6815),(96,.68),(102,.6815),(107,.683),(112,.6855),(118,.688),(123,.6895),(129,.691),(134,.6925),(140,.694),(145,.6925),(150,.691),(156,.691),(161,.691),(166,.6895),(172,.688),(177,.6855),(183,.683),(188,.6815),(194,.68),(199,.6815),(204,.683),(210,.68),(215,.677),(220,.6785),(226,.68),(230,.6815),(234,.683),(238,.685),(242,.687),(248,.689),(253,.691),(258,.693),(264,.695),(269,.693),(274,.691),(280,.6925),(285,.694),(290,.6925),(296,.691),(301,.6925),(307,.694),(312,.6955),(318,.697),(323,.6955),(328,.694),(334,.6945),(339,.695),(345,.697),(350,.699),(356,.7),(361,.701),(366,.7015),(372,.702),(376,.7035),(380,.705),(382,.71),(385,.7045),(388,.699),(392,.699),(396,.699),(399,.698),(403,.701),(407,.7036),(410,.705),(412,.706),(415,.694),(419,.6945),(423,.695),(428,.6945),(434,.694),(439,.6955),(444,.697),(450,.6975),(455,.698),(458,.703),(461,.708),(464,.705),(466,.702),(472,.702),(477,.702),(482,.6985),(488,.695),(492,.6965),(496,.698),(500,.7015),(504,.705),(506,.713),(509,.7063),(512,.6995),(516,.7003),(520,.701),(524,.6995),(528,.698),(531,.6965),(533,.695),(536,.7015),(539,.708),(542,.7105),(544,.713),(548,.713),(552,.713),(555,.71),(558,.669),(561,.6665),(563,.664),(568,.665),(574,.666),(580,.665),(585,.664),(590,.663),(595,.662),(600,.6615),(604,.661),(607,.654),(609,.647),(613,.645),(617,.643),(622,.6425),(628,.642),(632,.642),(636,.642),(638,.638),(641,.634),(644,.606),(647,.609),(649,.612),(655,.612),(660,.612),(664,.6105),(668,.609),(671,.603),(676,.604),(682,.605),(686,.6095),(690,.614),(694,.613),(698,.612),(702,.6085),(706,.605),(710,.604),(714,.603),(718,.6045),(722,.606),(725,.602),(728,.598),(732,.591),(736,.584),(739,.58),(742,.583)]
oe_rmfrs = [(0,.782),(2,.7765),(5,.771),(7,.7585),(10,.746),(12,.738),(15,.73),(18,.727),(21,.724),(23,.7215),(26,.719),(29,.7135),(32,.708),(34,.698),(37,.688),(40,.684),(42,.68),(45,.6785),(48,.677),(52,.6745),(56,.672),(60,.6705),(64,.669),(68,.6665),(72,.664),(76,.661),(80,.658),(84,.658),(88,.658),(92,.6565),(96,.655),(100,.654),(104,.653),(108,.6555),(112,.658),(117,.6565),(121,.655),(125,.655),(129,.655),(133,.6525),(137,.65),(141,.6485),(145,.647),(150,.646),(156,.645),(161,.644),(166,.643),(169,.641),(172,.639),(176,.6395),(180,.64),(184,.639),(188,.638),(194,.6385),(199,.639),(205,.6365),(210,.634),(214,.6325),(218,.631),(222,.638),(226,.645),(230,.642),(234,.639),(238,.6375),(242,.636),(248,.6375),(253,.639),(258,.6385),(264,.638),(267,.637),(269,.636),(274,.6375)]
oe_fnrs = [(0,.765),(2,.7585),(5,.752),(7,.7575),(10,.763),(13,.76),(15,.757),(18,.764),(21,.771),(24,.7655),(26,.76),(29,.7615),(32,.763),(35,.7575),(37,.752),(40,.742),(42,.732),(45,.735),(48,.738),(51,.7405),(53,.743),(56,.7375),(59,.732),(61,.71),(65,.706),(69,.702),(73,.7005),(77,.699),(81,.7005),(86,.702),(89,.698),(91,.694),(94,.691),(96,.688),(99,.6855),(102,.683),(105,.679),(107,.675),(110,.676),(112,.677),(115,.6705),(118,.664),(120,.6585),(123,.653),(126,.65),(129,.647),(131,.6445),(134,.642),(136,.6355),(137,.629),(140,.6315),(142,.634)]

panels = [
    dict(series=[ap_mlnb, ap_spc, ap_proj, ap_rf, ap_pmu, ap_rmfrs, ap_fnrs],
         ylim=(0.35, 0.55), yticks=[0.35, 0.4, 0.45, 0.5, 0.55],
         yticklabels=["0.35", "0.4", "0.45", "0.5", "0.55"],
         ylabel="Average Precision", caption="(a)  Average Precision.",
         rect=[0.0553, 0.6104, 0.4287, 0.3772], legend_loc="lower right",
         ylab_x=-0.087, cap_xy=(285, 370)),
    dict(series=[rl_mlnb, rl_spc, rl_proj, rl_rf, rl_pmu, rl_rmfrs, rl_fnrs],
         ylim=(0.115, 0.165), yticks=[0.115, 0.12, 0.125, 0.13, 0.135, 0.14, 0.145, 0.15, 0.155, 0.16, 0.165],
         yticklabels=["0.115", "0.12", "0.125", "0.13", "0.135", "0.14", "0.145", "0.15", "0.155", "0.16", "0.165"],
         ylabel="Ranking Loss", caption="(b)  Ranking Loss.",
         rect=[0.5627, 0.6104, 0.4226, 0.3772], legend_loc="upper right",
         ylab_x=-0.102, cap_xy=(865, 370)),
    dict(series=[hl_mlnb, hl_spc, hl_proj, hl_rf, hl_pmu, hl_rmfrs, hl_fnrs],
         ylim=(0.032, 0.037), yticks=[0.032, 0.0325, 0.033, 0.0335, 0.034, 0.0345, 0.035, 0.0355, 0.036, 0.0365, 0.037],
         yticklabels=["0.032", "0.0325", "0.033", "0.0335", "0.034", "0.0345", "0.035", "0.0355", "0.036", "0.0365", "0.037"],
         ylabel="Hamming Loss", caption="(c)  Hamming Loss.",
         rect=[0.0700, 0.0868, 0.4171, 0.3772], legend_loc="upper right",
         ylab_x=-0.120, cap_xy=(287, 790)),
    dict(series=[oe_mlnb, oe_spc, oe_proj, oe_rf, oe_pmu, oe_rmfrs, oe_fnrs],
         ylim=(0.55, 0.8), yticks=[0.55, 0.6, 0.65, 0.7, 0.75, 0.8],
         yticklabels=["0.55", "0.6", "0.65", "0.7", "0.75", "0.8"],
         ylabel="One\u2212error", caption="(d)  One-error.",
         rect=[0.5608, 0.0868, 0.4271, 0.3772], legend_loc="upper right",
         ylab_x=-0.090, cap_xy=(865, 790)),
]

plt.rcParams["font.family"] = ["Liberation Sans", "DejaVu Sans"]
W, H = 1157, 806
fig = plt.figure(figsize=(W / 100, H / 100), dpi=100)

for p in panels:
    ax = fig.add_axes(p["rect"])
    for s, name, c in zip(p["series"], methods, colors):
        xs = [pt[0] for pt in s]
        ys = [pt[1] for pt in s]
        ax.plot(xs, ys, color=c, lw=1.5, label=name, solid_joinstyle="miter")
    ax.set_xlim(0, 800)
    ax.set_ylim(*p["ylim"])
    ax.set_xticks(range(0, 801, 100))
    ax.set_yticks(p["yticks"])
    ax.set_yticklabels(p["yticklabels"])
    ax.tick_params(direction="in", top=True, right=True, labelsize=10, length=4, width=0.8, pad=3)
    for sp in ax.spines.values():
        sp.set_linewidth(0.9)
    ax.set_xlabel("Number of selected features", fontsize=10.8, labelpad=1)
    ax.set_ylabel(p["ylabel"], fontsize=8.6)
    ax.yaxis.set_label_coords(p["ylab_x"], 0.5)
    leg = ax.legend(loc=p["legend_loc"], fontsize=10.5, frameon=True, fancybox=False,
                    edgecolor="black", handlelength=3.1, handletextpad=0.46,
                    borderaxespad=0.45, labelspacing=0.08, borderpad=0.25)
    leg.get_frame().set_linewidth(1.0)
    for l in leg.get_lines():
        l.set_linewidth(2.0)
    cx, cy = p["cap_xy"]
    fig.text(cx / W, 1 - cy / H, p["caption"], ha="center", va="center",
             fontsize=15, family=["Liberation Serif", "DejaVu Serif"])

fig.savefig("out.png", dpi=100)
